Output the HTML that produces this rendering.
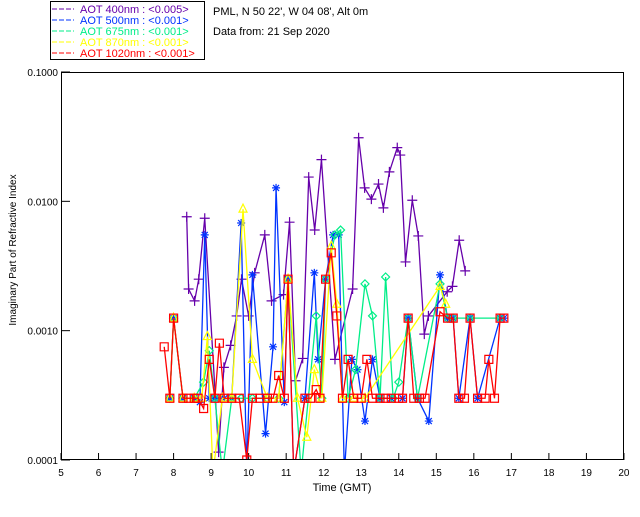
<!DOCTYPE html>
<html><head><meta charset="utf-8"><style>
body{margin:0;background:#fff}
svg{font-family:"Liberation Sans",sans-serif;font-size:11px}
</style></head><body>
<svg id="chart" width="640" height="512" xmlns="http://www.w3.org/2000/svg">
<rect width="640" height="512" fill="#fff"/>
<g>
<rect x="50.5" y="1.5" width="154" height="58" fill="#fff" stroke="#000"/>
<line x1="52" y1="9" x2="74" y2="9" stroke="#6600aa" stroke-dasharray="5,2"/><text x="80" y="13" fill="#6600aa">AOT  400nm : &lt;0.005&gt;</text>
<line x1="52" y1="20" x2="74" y2="20" stroke="#0033ff" stroke-dasharray="5,2"/><text x="80" y="24" fill="#0033ff">AOT  500nm : &lt;0.001&gt;</text>
<line x1="52" y1="31" x2="74" y2="31" stroke="#00ee88" stroke-dasharray="5,2"/><text x="80" y="35" fill="#00ee88">AOT  675nm : &lt;0.001&gt;</text>
<line x1="52" y1="42" x2="74" y2="42" stroke="#ffff00" stroke-dasharray="5,2"/><text x="80" y="46" fill="#ffff00">AOT  870nm : &lt;0.001&gt;</text>
<line x1="52" y1="53" x2="74" y2="53" stroke="#ff0000" stroke-dasharray="5,2"/><text x="80" y="57" fill="#ff0000">AOT 1020nm : &lt;0.001&gt;</text>
</g>
<text x="213" y="15">PML, N 50 22', W 04 08', Alt 0m</text>
<text x="213" y="35">Data from: 21 Sep 2020</text>
<g id="axes"></g>
<defs><clipPath id="clip"><rect x="61" y="72" width="563" height="388"/></clipPath></defs>
<g id="series" clip-path="url(#clip)"></g>
<rect x="61.5" y="72.5" width="562" height="387" fill="none" stroke="#000"/>
<text x="342" y="491" text-anchor="middle">Time (GMT)</text>
<text transform="translate(16,250) rotate(-90)" text-anchor="middle" font-size="10">Imaginary Part of Refractive Index</text>
</svg>
<script>
const xTicks=[5,6,7,8,9,10,11,12,13,14,15,16,17,18,19,20];
const yTicks=[0.1,0.01,0.001,0.0001];
const yTickLabels=["0.1000","0.0100","0.0010","0.0001"];
const t400=[8.35,8.40,8.56,8.67,8.83,9.20,9.34,9.52,9.68,9.81,10.0,10.16,10.43,10.61,10.93,11.09,11.25,11.44,11.6,11.76,11.94,12.3,12.77,12.93,13.09,13.27,13.46,13.59,13.75,13.96,14.04,14.18,14.36,14.52,14.68,14.79,15.29,15.43,15.61,15.77];
const v400=[0.0076,0.0021,0.0017,0.0025,0.0074,0.000115,0.00052,0.00077,0.0013,0.0025,0.0013,0.0028,0.0055,0.0017,0.0019,0.0069,0.00041,0.00061,0.0154,0.006,0.021,0.0006,0.0021,0.031,0.0127,0.0104,0.0136,0.0089,0.0169,0.026,0.0228,0.0034,0.0102,0.0054,0.00094,0.0013,0.002,0.0022,0.005,0.0029];
const t500=[7.9,8.0,8.25,8.55,8.7,8.83,8.95,9.1,9.35,9.55,9.8,9.95,10.1,10.45,10.65,10.73,10.95,11.05,11.2,11.5,11.75,11.85,12.05,12.25,12.4,12.55,12.75,12.9,13.1,13.3,13.5,13.8,14.1,14.25,14.5,14.8,15.1,15.3,15.45,15.6,15.9,16.1,16.7,16.8];
const v500=[0.0003,0.00125,0.0003,0.0003,0.00028,0.0055,0.0003,0.0003,0.0003,0.0003,0.0068,0.00008,0.0027,0.00016,0.00075,0.0127,0.00028,0.0025,0.00008,0.0003,0.0028,0.0006,0.0025,0.0055,0.0055,0.00008,0.0006,0.0005,0.0002,0.0006,0.0003,0.0003,0.0003,0.00125,0.0003,0.0002,0.0027,0.00125,0.00125,0.0003,0.00125,0.0003,0.00125,0.00125];
const t675=[7.9,8.0,8.25,8.55,8.8,8.95,9.1,9.3,9.55,9.8,10.1,10.5,10.8,11.05,11.4,11.8,11.95,12.05,12.3,12.45,12.65,12.85,13.1,13.3,13.5,13.65,13.85,14.0,14.25,14.5,15.1,15.3,15.45,15.9,16.7];
const v675=[0.0003,0.00125,0.0003,0.0003,0.0004,0.0007,0.0003,0.00008,0.0003,0.0003,0.0003,0.0003,0.0003,0.0025,0.00008,0.0013,0.0003,0.0025,0.0055,0.006,0.0003,0.0005,0.0023,0.0013,0.0003,0.0026,0.0003,0.0004,0.00125,0.0003,0.0023,0.00125,0.00125,0.00125,0.00125];
const t870=[7.9,8.0,8.25,8.55,8.75,8.9,9.05,9.3,9.55,9.85,10.1,10.5,10.8,11.05,11.3,11.55,11.75,11.95,12.2,12.35,12.5,12.8,13.1,15.1,15.25];
const v870=[0.0003,0.00125,0.0003,0.0003,0.0003,0.0009,0.00008,0.0003,0.0003,0.0087,0.0006,0.0003,0.0003,0.0025,0.0003,0.00015,0.0005,0.0003,0.0045,0.0016,0.0003,0.0003,0.0003,0.0022,0.0016];
const t1020=[7.75,7.9,8.0,8.25,8.4,8.55,8.65,8.8,8.95,9.1,9.22,9.35,9.55,9.75,9.95,10.1,10.3,10.5,10.65,10.8,10.95,11.05,11.2,11.5,11.65,11.8,11.9,12.05,12.2,12.35,12.5,12.65,12.8,13.0,13.15,13.3,13.5,13.65,13.8,14.0,14.1,14.25,14.4,14.55,14.7,15.1,15.3,15.45,15.6,15.75,15.9,16.1,16.3,16.4,16.55,16.7,16.8];
const v1020=[0.00075,0.0003,0.00125,0.0003,0.0003,0.0003,0.0003,0.00025,0.0006,0.0003,0.0008,0.0003,0.0003,0.0003,0.0001,0.0003,0.0003,0.0003,0.0003,0.00045,0.0003,0.0025,0.00008,0.0003,0.0003,0.00035,0.0003,0.0025,0.004,0.0013,0.0003,0.0006,0.0003,0.0003,0.0006,0.0003,0.0003,0.0003,0.0003,0.0003,0.0003,0.00125,0.0003,0.0003,0.0003,0.0014,0.00125,0.00125,0.0003,0.0003,0.00125,0.0003,0.0003,0.0006,0.0003,0.00125,0.00125];

const NS="http://www.w3.org/2000/svg";
const X=t=>61+(t-5)*37.53;
const Y=v=>72+(-1-Math.log10(v))*129.33;
function mk(tag,attrs,parent){const e=document.createElementNS(NS,tag);for(const k in attrs)e.setAttribute(k,attrs[k]);parent.appendChild(e);return e;}
const axes=document.getElementById('axes');
xTicks.forEach(t=>{
  mk('line',{x1:X(t),y1:460,x2:X(t),y2:453,stroke:'#000'},axes);
  const tx=mk('text',{x:X(t),y:476,'text-anchor':'middle','font-size':'10'},axes);
  tx.textContent=t;
  
  
});
yTicks.forEach((v,i)=>{
  mk('line',{x1:61,y1:Y(v),x2:70,y2:Y(v),stroke:'#000'},axes);
  const tx=mk('text',{x:58,y:Y(v)+4,'text-anchor':'end','font-size':'10'},axes);
  tx.textContent=yTickLabels[i];
  
  
});
const sg=document.getElementById('series');
function series(ts,vs,color,marker,name){
  const g=mk('g',{},sg);
  
  
  mk('polyline',{points:ts.map((t,i)=>X(t)+','+Y(vs[i])).join(' '),fill:'none',stroke:color,'stroke-width':1.3},g);
  ts.forEach((t,i)=>{const x=X(t),y=Y(vs[i]);let p;
    if(marker==='plus')p=`M${x-5},${y}H${x+5}M${x},${y-5}V${y+5}`;
    else if(marker==='star')p=`M${x-4},${y}H${x+4}M${x},${y-4}V${y+4}M${x-3},${y-3}L${x+3},${y+3}M${x-3},${y+3}L${x+3},${y-3}`;
    else if(marker==='diamond')p=`M${x},${y-4}L${x+4},${y}L${x},${y+4}L${x-4},${y}Z`;
    else if(marker==='tri')p=`M${x},${y-5}L${x+4},${y+3}L${x-4},${y+3}Z`;
    else p=`M${x-4},${y-4}H${x+4}V${y+4}H${x-4}Z`;
    mk('path',{d:p,fill:'none',stroke:color,'stroke-width':1.2},g);
  });
}
series(t400,v400,'#6600aa','plus','series-400nm');
series(t500,v500,'#0033ff','star','series-500nm');
series(t675,v675,'#00ee88','diamond','series-675nm');
series(t870,v870,'#ffff00','tri','series-870nm');
series(t1020,v1020,'#ff0000','square','series-1020nm');
</script>
</body></html>
